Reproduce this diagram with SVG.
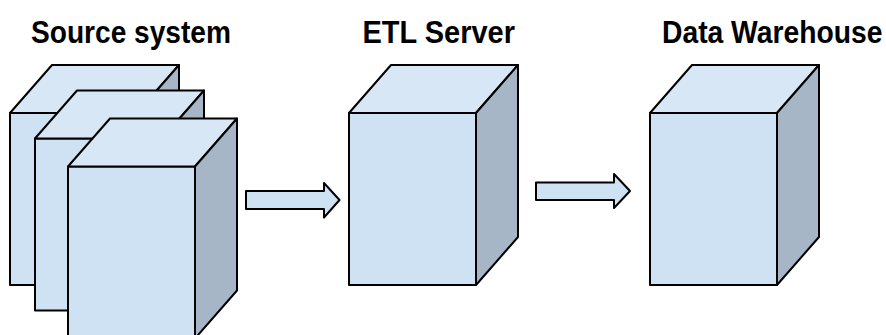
<svg xmlns="http://www.w3.org/2000/svg" width="886" height="335" viewBox="0 0 886 335">
  <style>
    .front { fill: #cfe2f3; }
    .top { fill: #d8e7f5; }
    .side { fill: #a6b6c6; }
    .edge { stroke: #000; stroke-width: 2; stroke-linejoin: round; }
    .label { font-family: "Liberation Sans", Arial, sans-serif; font-weight: bold; font-size: 31px; fill: #000; }
    .arrow { fill: #cfe2f3; stroke: #000; stroke-width: 2; stroke-linejoin: round; }
  </style>
  <defs>
    <!-- Box with front face 127x172 and a 42x48 depth offset, origin at front-top-left -->
    <g id="box">
      <rect class="front edge" x="0" y="0" width="127" height="172"/>
      <polygon class="top edge" points="0,0 42,-48 169,-48 127,0"/>
      <polygon class="side edge" points="127,0 169,-48 169,124 127,172"/>
    </g>
  </defs>

  <rect width="886" height="335" fill="#fff"/>

  <!-- titles are narrowed horizontally with a scale transform -->
  <g id="source-system">
    <text class="label" transform="translate(31,42.5) scale(0.907,1)">Source system</text>
    <use href="#box" x="10" y="113"/>
    <use href="#box" x="35" y="138.5"/>
    <use href="#box" x="68" y="166.5"/>
  </g>

  <g id="etl-server">
    <text class="label" transform="translate(362.5,42.5) scale(0.935,1)">ETL Server</text>
    <use href="#box" x="349" y="113"/>
  </g>

  <g id="data-warehouse">
    <text class="label" transform="translate(662,42.5) scale(0.912,1)">Data Warehouse</text>
    <use href="#box" x="650" y="113"/>
  </g>

  <g id="connectors">
    <polygon class="arrow" points="246,191 324,191 324,183 339.5,200 324,217.5 324,209 246,209"/>
    <polygon class="arrow" points="536,182.5 614,182.5 614,174 630,191 614,208 614,200 536,200"/>
  </g>
</svg>
